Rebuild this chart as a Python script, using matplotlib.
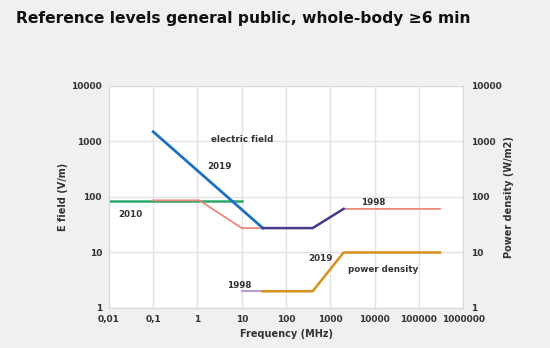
import matplotlib.pyplot as plt
from matplotlib.ticker import FixedLocator, FixedFormatter, NullLocator

# E field reference levels (V/m) vs frequency (MHz)
e2010_f = [0.01, 10]
e2010_v = [84, 84]

e1998_f = [0.1, 1.1, 10, 400, 2000, 300000]
e1998_v = [87, 87, 27.5, 27.5, 61, 61]

e2019_f = [0.1, 30]
e2019_v = [1500, 27.5]

# part where 2019 and 1998 coincide
eboth_f = [30, 400, 2000]
eboth_v = [27.5, 27.5, 61]

# power density (W/m2)
p1998_f = [10, 30]
p1998_v = [2, 2]

p2019_f = [30, 400, 2000, 300000]
p2019_v = [2, 2, 10, 10]

ticks = [0.01, 0.1, 1, 10, 100, 1000, 10000, 100000, 1000000]
tick_labels = ["0,01", "0,1", "1", "10", "100", "1000", "10000", "100000", "1000000"]
yticks = [1, 10, 100, 1000, 10000]
ytick_labels = ["1", "10", "100", "1000", "10000"]

fig = plt.figure(figsize=(5.5, 3.48), dpi=100)
fig.patch.set_facecolor("#f0f0f0")
ax = fig.add_axes([0.198, 0.115, 0.644, 0.638])
ax.set_facecolor("white")

ax.plot(e2010_f, e2010_v, color="#2aa86a", lw=1.8)
ax.plot(e1998_f, e1998_v, color="#e8897a", lw=1.3)
ax.plot(e2019_f, e2019_v, color="#1f6fc0", lw=2)
ax.plot(eboth_f, eboth_v, color="#4a3b8c", lw=1.8)
ax.plot(p1998_f, p1998_v, color="#b79ad0", lw=1.5)
ax.plot(p2019_f, p2019_v, color="#d98f1a", lw=1.8)

ax.set_xscale("log")
ax.set_yscale("log")
ax.set_xlim(0.01, 1000000)
ax.set_ylim(1, 10000)
ax.xaxis.set_major_locator(FixedLocator(ticks))
ax.xaxis.set_major_formatter(FixedFormatter(tick_labels))
ax.xaxis.set_minor_locator(NullLocator())
ax.yaxis.set_major_locator(FixedLocator(yticks))
ax.yaxis.set_major_formatter(FixedFormatter(ytick_labels))
ax.yaxis.set_minor_locator(NullLocator())
ax.grid(True, color="#e3e3e3", lw=1)
ax.set_axisbelow(True)
for s in ax.spines.values():
    s.set_color("#d8d8d8")
ax.tick_params(length=0, labelsize=6.5, pad=5)
for lab in ax.get_xticklabels() + ax.get_yticklabels():
    lab.set_fontweight("bold")
    lab.set_color("#333333")

ax2 = ax.twinx()
ax2.set_yscale("log")
ax2.set_ylim(1, 10000)
ax2.yaxis.set_major_locator(FixedLocator(yticks))
ax2.yaxis.set_major_formatter(FixedFormatter(ytick_labels))
ax2.yaxis.set_minor_locator(NullLocator())
ax2.tick_params(length=0, labelsize=6.5, pad=6)
for lab in ax2.get_yticklabels():
    lab.set_fontweight("bold")
    lab.set_color("#333333")
for s in ax2.spines.values():
    s.set_visible(False)

ax.set_xlabel("Frequency (MHz)", fontsize=7, fontweight="bold", color="#333333", labelpad=4)
ax.set_ylabel("E field (V/m)", fontsize=7, fontweight="bold", color="#333333", labelpad=-4)
ax2.set_ylabel("Power density (W/m2)", fontsize=7, fontweight="bold", color="#333333", labelpad=-4)
ax.yaxis.set_label_coords(-0.115, 0.5)
ax2.yaxis.set_label_coords(1.115, 0.5)

kw = dict(fontsize=6.3, fontweight="bold", color="#333333", ha="center", va="center")
ax.text(10, 1070, "electric field", **kw)
ax.text(3.2, 350, "2019", **kw)
ax.text(0.03, 49, "2010", **kw)
ax.text(9300, 81, "1998", **kw)
ax.text(590, 7.9, "2019", **kw)
ax.text(15500, 5.0, "power density", **kw)
ax.text(8.7, 2.5, "1998", **kw)

fig.text(0.03, 0.948, "Reference levels general public, whole-body \u22656 min",
         fontsize=11.2, fontweight="bold", color="#111111", va="center", ha="left")

fig.savefig("out.png", dpi=100, facecolor=fig.get_facecolor())
